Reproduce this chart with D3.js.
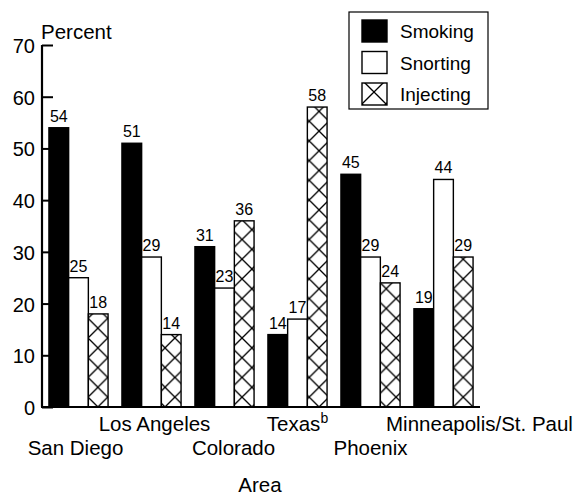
<!DOCTYPE html>
<html>
<head>
<meta charset="utf-8">
<script src="https://cdn.jsdelivr.net/npm/d3@7/dist/d3.min.js"></script>
<style>
  html, body { margin: 0; padding: 0; background: #fff; }
  text { font-family: "Liberation Sans", Arial, Helvetica, sans-serif; fill: #000; }
</style>
</head>
<body>
<svg id="chart" width="581" height="495"></svg>
<script>
const categories = ["San Diego", "Los Angeles", "Colorado", "Texas", "Phoenix", "Minneapolis/St. Paul"];
const categorySup = ["", "", "", "b", "", ""];
const seriesNames = ["Smoking", "Snorting", "Injecting"];
const smoking = [54, 51, 31, 14, 45, 19];
const snorting = [25, 29, 23, 17, 29, 44];
const injecting = [18, 14, 36, 58, 24, 29];
const yTicks = [0, 10, 20, 30, 40, 50, 60, 70];

const seriesValues = [smoking, snorting, injecting];

const svg = d3.select("#chart");
const defs = svg.append("defs");

const x0 = d3.scaleBand().domain(categories).range([42, 480]).paddingInner(0.19).paddingOuter(0.095);
const x1 = d3.scaleBand().domain(seriesNames).range([0, x0.bandwidth()]);
const y = d3.scaleLinear().domain([0, 70]).range([407, 45]);

function hatchPattern(id, px, py, w) {
  const p = defs.append("pattern").attr("id", id)
    .attr("patternUnits", "userSpaceOnUse")
    .attr("x", px).attr("y", py).attr("width", w).attr("height", w);
  p.append("rect").attr("width", w).attr("height", w).attr("fill", "#fff");
  p.append("line").attr("x1", 0).attr("y1", 0).attr("x2", w).attr("y2", w)
    .attr("stroke", "#000").attr("stroke-width", 1.3);
  p.append("line").attr("x1", w).attr("y1", 0).attr("x2", 0).attr("y2", w)
    .attr("stroke", "#000").attr("stroke-width", 1.3);
}

function fillFor(si, ci, bx) {
  if (si === 0) return "#000";
  if (si === 1) return "#fff";
  const id = "hatch" + ci;
  hatchPattern(id, bx, y(0), x1.bandwidth());
  return "url(#" + id + ")";
}

// Bars
const groups = svg.append("g").selectAll("g").data(categories).join("g")
  .attr("transform", d => `translate(${x0(d)},0)`);

categories.forEach((cat, ci) => {
  const g = groups.filter(d => d === cat);
  seriesNames.forEach((s, si) => {
    const v = seriesValues[si][ci];
    const bx = x0(cat) + x1(s);
    g.append("rect")
      .attr("x", x1(s))
      .attr("y", y(v))
      .attr("width", x1.bandwidth())
      .attr("height", y(0) - y(v))
      .attr("fill", fillFor(si, ci, bx))
      .attr("stroke", "#000")
      .attr("stroke-width", 1.4);
    g.append("text")
      .attr("x", x1(s) + x1.bandwidth() / 2)
      .attr("y", y(v) - 6)
      .attr("text-anchor", "middle")
      .attr("font-size", 16)
      .text(v);
  });
});

// Y axis
const yAxis = d3.axisRight(y).tickValues(yTicks).tickSize(11).tickFormat("");
const ya = svg.append("g").attr("transform", "translate(42,0)").call(yAxis);
ya.select(".domain").attr("stroke-width", 2.2).attr("d", `M0,${y(70)}V${y(0)}`);
ya.selectAll(".tick line").attr("stroke-width", 2);

svg.append("g").selectAll("text").data(yTicks).join("text")
  .attr("x", 35).attr("y", d => y(d) + 8)
  .attr("text-anchor", "end")
  .attr("font-size", 20)
  .text(d => d);

// Baseline
svg.append("line").attr("x1", 41).attr("x2", 480).attr("y1", y(0)).attr("y2", y(0))
  .attr("stroke", "#000").attr("stroke-width", 2.2);

// Y title
svg.append("text").attr("x", 41).attr("y", 39).attr("font-size", 20.5).text("Percent");

// Category labels (alternating rows)
const labelDx = [-3, 3, 9, 0, 0, 36];
categories.forEach((cat, ci) => {
  const t = svg.append("text")
    .attr("x", x0(cat) + x0.bandwidth() / 2 + labelDx[ci])
    .attr("y", ci % 2 === 1 ? 431 : 455)
    .attr("text-anchor", "middle")
    .attr("font-size", 20.5);
  t.append("tspan").text(cat);
  if (categorySup[ci]) {
    t.append("tspan").attr("font-size", 14).attr("dy", -8).text(categorySup[ci]);
  }
});

// X title
svg.append("text").attr("x", 260).attr("y", 492).attr("text-anchor", "middle")
  .attr("font-size", 20.5).text("Area");

// Legend
const lg = svg.append("g");
lg.append("rect").attr("x", 349).attr("y", 12).attr("width", 139).attr("height", 97)
  .attr("fill", "#fff").attr("stroke", "#000").attr("stroke-width", 1.2);
const legY = d3.scalePoint().domain(seriesNames).range([31, 94]);
hatchPattern("hatchLegend", 362, 104, 24);
seriesNames.forEach((s, si) => {
  const cy = legY(s);
  lg.append("rect")
    .attr("x", 362).attr("y", cy - 11).attr("width", 25).attr("height", 22)
    .attr("fill", si === 0 ? "#000" : si === 1 ? "#fff" : "url(#hatchLegend)")
    .attr("stroke", "#000").attr("stroke-width", 1.4);
  lg.append("text").attr("x", 400).attr("y", cy + 7).attr("font-size", 19).text(s);
});
</script>
</body>
</html>
